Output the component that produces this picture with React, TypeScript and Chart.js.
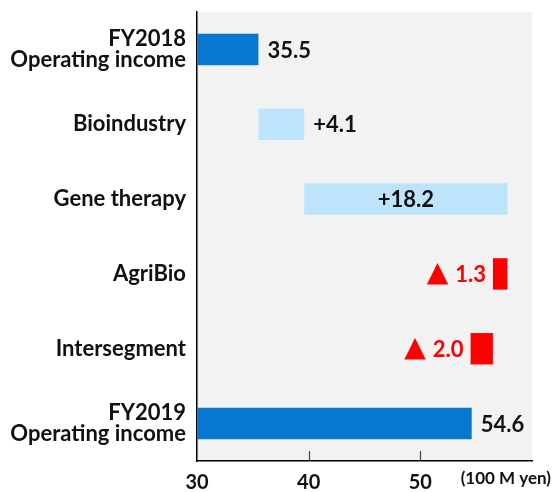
import React, { useEffect, useRef } from "react";
import { Chart, registerables } from "chart.js";

Chart.register(...registerables);

const categories: string[][] = [
  ["FY2018", "Operating income"],
  ["Bioindustry"],
  ["Gene therapy"],
  ["AgriBio"],
  ["Intersegment"],
  ["FY2019", "Operating income"],
];
const kinds = ["total", "delta", "delta", "delta", "delta", "total"];
const values = [35.5, 4.1, 18.2, -1.3, -2.0, 54.6];
const xTicks = [30, 40, 50];
const axisMin = 30;
const axisMax = 60;
const unitLabel = "(100 M yen)";

const FONT = "Lato, 'Open Sans', sans-serif";
const BLUE = "#0777D0";
const LIGHT = "#BDE4FB";
const RED = "#FF0000";

function buildRanges(): number[][] {
  let run = 0;
  return values.map((v, i) => {
    if (kinds[i] === "total") {
      run = v;
      return [axisMin, v];
    }
    const s = run;
    run = +(run + v).toFixed(2);
    return [s, run];
  });
}

function labelText(i: number): string {
  const v = values[i];
  if (kinds[i] === "total") return v.toFixed(1);
  if (v >= 0) return "+" + v.toFixed(1);
  return Math.abs(v).toFixed(1);
}

const waterfallPlugin = {
  id: "waterfallDecor",
  beforeDraw(chart: any) {
    const { ctx, chartArea } = chart;
    ctx.save();
    ctx.fillStyle = "#F2F2F2";
    ctx.fillRect(chartArea.left, chartArea.top, chartArea.right - chartArea.left, chartArea.bottom - chartArea.top);
    ctx.restore();
  },
  afterDraw(chart: any) {
    const { ctx, chartArea } = chart;
    const xs = chart.scales.x;
    const meta = chart.getDatasetMeta(0);
    ctx.save();
    // tick marks
    ctx.strokeStyle = "#444";
    ctx.lineWidth = 1.2;
    xTicks.forEach((t) => {
      if (t === axisMin) return;
      const px = Math.round(xs.getPixelForValue(t)) + 0.5;
      ctx.beginPath();
      ctx.moveTo(px, chartArea.bottom);
      ctx.lineTo(px, chartArea.bottom - 10);
      ctx.stroke();
    });
    // value labels
    ctx.textBaseline = "middle";
    meta.data.forEach((bar: any, i: number) => {
      const left = Math.min(bar.x, bar.base);
      const right = Math.max(bar.x, bar.base);
      const txt = labelText(i);
      const v = values[i];
      ctx.font = `bold 22px ${FONT}`;
      if (kinds[i] !== "total" && v < 0) {
        ctx.fillStyle = RED;
        ctx.textAlign = "right";
        const tx = left - 7;
        ctx.fillText(txt, tx, bar.y + 1);
        const w = ctx.measureText(txt).width;
        ctx.font = `28px 'DejaVu Sans', sans-serif`;
        ctx.fillText("\u25B2", tx - w - 7, bar.y);
      } else if (kinds[i] !== "total" && right - left > 120) {
        ctx.fillStyle = "#111";
        ctx.textAlign = "center";
        ctx.fillText(txt, (left + right) / 2, bar.y + 1);
      } else {
        ctx.fillStyle = "#111";
        ctx.textAlign = "left";
        ctx.fillText(txt, right + 9, bar.y + 1);
      }
    });
    // unit label
    ctx.font = `bold 17px ${FONT}`;
    ctx.fillStyle = "#111";
    ctx.textAlign = "right";
    ctx.fillText(unitLabel, chart.width - 3, chartArea.bottom + 18);
    ctx.restore();
  },
};

export default function App() {
  const ref = useRef<HTMLCanvasElement | null>(null);
  useEffect(() => {
    document.body.style.margin = "0";
    const ranges = buildRanges();
    const colors = values.map((v, i) => (kinds[i] === "total" ? BLUE : v >= 0 ? LIGHT : RED));
    const chart = new Chart(ref.current as HTMLCanvasElement, {
      type: "bar",
      data: {
        labels: categories,
        datasets: [
          {
            data: ranges as any,
            backgroundColor: colors,
            borderWidth: 0,
            barPercentage: 0.42,
            categoryPercentage: 1,
          },
        ],
      },
      options: {
        indexAxis: "y",
        responsive: false,
        animation: false,
        layout: { padding: { left: 0, right: 22, top: 12, bottom: 0 } },
        plugins: { legend: { display: false }, tooltip: { enabled: false } },
        scales: {
          x: {
            min: axisMin,
            max: axisMax,
            grid: { display: false, drawTicks: false },
            border: { display: true, color: "#000", width: 1.5 },
            afterBuildTicks: (s: any) => {
              s.ticks = xTicks.map((v) => ({ value: v }));
            },
            afterFit: (s: any) => {
              s.height = 31;
              s.paddingLeft = 0;
              s.paddingRight = 0;
            },
            ticks: {
              color: "#111",
              padding: 10,
              maxRotation: 0,
              autoSkip: false,
              font: { family: FONT, size: 20, weight: "bold" },
            },
          },
          y: {
            grid: { display: false, drawTicks: false },
            border: { display: true, color: "#000", width: 1.5 },
            afterFit: (s: any) => {
              s.width = 197;
              s.paddingTop = 0;
              s.paddingBottom = 0;
            },
            ticks: {
              color: "#111",
              padding: 11,
              font: { family: FONT, size: 22, weight: "bold", lineHeight: 0.95 },
            },
          },
        },
      },
      plugins: [waterfallPlugin],
    });
    return () => chart.destroy();
  }, []);
  return <canvas ref={ref} width={554} height={492} style={{ display: "block" }} />;
}
